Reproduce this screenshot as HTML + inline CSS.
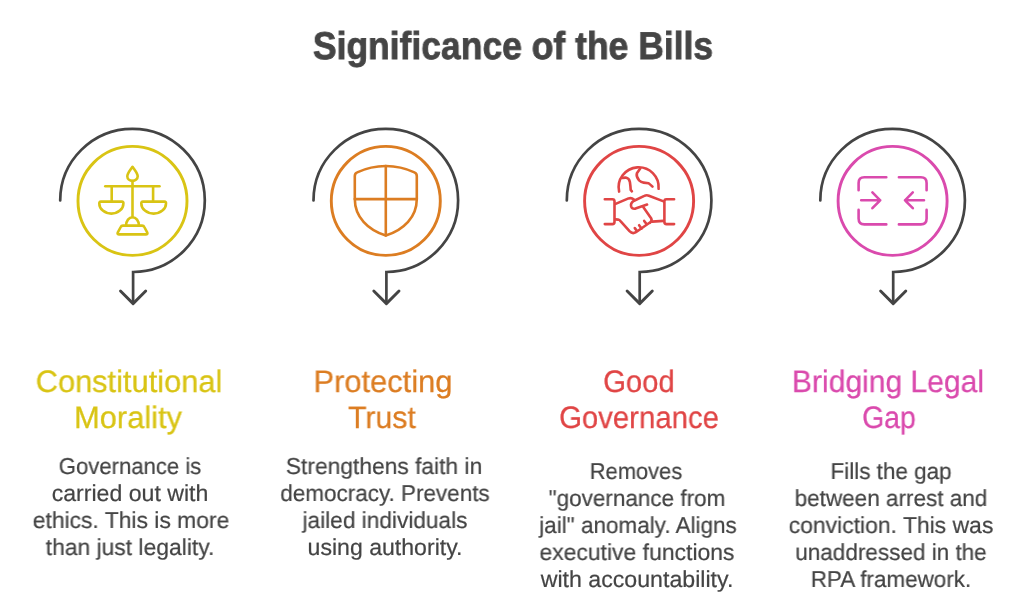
<!DOCTYPE html>
<html><head><meta charset="utf-8"><style>
html,body{margin:0;padding:0;background:#fff;}
body{width:1024px;height:609px;position:relative;overflow:hidden;font-family:"Liberation Sans",sans-serif;}
.ln{position:absolute;white-space:nowrap;transform-origin:50% 50%;will-change:transform;text-rendering:geometricPrecision;}
svg{position:absolute;left:0;top:0;}
</style></head><body>
<svg width="1024" height="609" viewBox="0 0 1024 609" fill="none" stroke-linecap="round" stroke-linejoin="round">

<!-- col1 -->
<g transform="translate(132.5 0)">
<path d="M-72.3 200.4 A72.3 71.6 0 1 1 0.6 272 L0.6 302.8" stroke="#444444" stroke-width="2.7" stroke-linecap="round" stroke-linejoin="miter"/><path d="M-12 291 L0.6 303.6 L13.2 291" stroke="#444444" stroke-width="2.9"/>
<circle cx="0" cy="200.9" r="54.5" stroke="#D9C414" stroke-width="2.9"/>
<g stroke="#D9C414" stroke-width="2.6">
<path d="M0 166.8 C-2.5 170.5 -5.2 173.5 -5.2 176.3 A5.2 4.6 0 0 0 5.2 176.3 C5.2 173.5 2.5 170.5 0 166.8 Z"/>
<path d="M0 181 L0 217"/>
<path d="M-27.2 186.3 L27 186.3"/>
<path d="M-20.8 186.3 L-20.8 201.4 M20.6 186.3 L20.6 201.4"/>
<path d="M-31.6 201.6 L-10.6 201.6 Q-8.9 201.6 -9.1 203.4 A12.05 10.2 0 0 1 -33.2 203.4 Q-33.3 201.6 -31.6 201.6 Z"/>
<path d="M10.4 201.6 L32 201.6 Q33.7 201.6 33.5 203.4 A12.35 10.2 0 0 1 8.8 203.4 Q8.7 201.6 10.4 201.6 Z"/>
<path d="M-6.4 225.4 A6.4 8.2 0 0 1 6.4 225.4"/>
<path d="M-9.6 225.6 L9.6 225.6 Q11.2 225.6 11.8 227 L14.8 232.6 Q15.4 234.4 13.4 234.4 L-13.4 234.4 Q-15.4 234.4 -14.8 232.6 L-11.8 227 Q-11.2 225.6 -9.6 225.6 Z"/>
</g>
</g>
<!-- col2 -->
<g transform="translate(385.8 0)">
<path d="M-72.3 200.4 A72.3 71.6 0 1 1 0.6 272 L0.6 302.8" stroke="#444444" stroke-width="2.7" stroke-linecap="round" stroke-linejoin="miter"/><path d="M-12 291 L0.6 303.6 L13.2 291" stroke="#444444" stroke-width="2.9"/>
<circle cx="0" cy="200.9" r="54.5" stroke="#DC7D22" stroke-width="2.9"/>
<g stroke="#DC7D22" stroke-width="2.6">
<path d="M-31 176 Q-31 173.3 -28.6 172.4 Q-15 166 0 166 Q15 166 28.6 172.4 Q31 173.3 31 176 L31 199 C31 217 18 230 0 235.6 C-18 230 -31 217 -31 199 Z"/>
<path d="M0 166 L0 235.4 M-31 199.1 L31 199.1"/>
</g>
</g>
<!-- col3 -->
<g transform="translate(639.1 0)">
<path d="M-72.3 200.4 A72.3 71.6 0 1 1 0.6 272 L0.6 302.8" stroke="#444444" stroke-width="2.7" stroke-linecap="round" stroke-linejoin="miter"/><path d="M-12 291 L0.6 303.6 L13.2 291" stroke="#444444" stroke-width="2.9"/>
<circle cx="0" cy="200.9" r="54.5" stroke="#E04545" stroke-width="2.9"/>
<g stroke="#E04545" stroke-width="2.6">
<path d="M-19.98 191.6 A20 20 0 1 1 19.49 188.8"/>
<path d="M-16.7 177.9 L-13.4 177.6 Q-10 178.3 -9.2 182 Q-8.6 186 -8.4 189.9 L-7.2 191.3"/>
<path d="M1.1 168.4 L-2.2 173.2 Q-3.2 176.8 0 180.4 Q2 182.3 4.5 182.6 L9.5 183.2 Q11.5 184.6 13.4 186.6"/>
<path d="M-34.3 199.2 L-26.7 199.2 Q-24.6 199.2 -24.6 201.3 L-24.6 222 Q-24.6 224.1 -26.7 224.1 L-34.3 224.1"/>
<path d="M35 199.2 L27.4 199.2 Q25.3 199.2 25.3 201.3 L25.3 222 Q25.3 224.1 27.4 224.1 L35 224.1"/>
<path d="M-23.5 203.9 L-10.6 198.4 Q-7.6 197.4 -5.2 199.4"/>
<path d="M24.5 201.4 L9.8 195.7 Q7.4 194.8 5.2 195.9 L-5 200.7 Q-8.8 203 -8 206.3 Q-7 209.2 -3.6 208.6 L8 204.6"/>
<path d="M4.3 207.2 L12 218.2 Q13.4 220.8 10.9 222.8"/>
<path d="M13 221.6 L24.5 220.9"/>
<path d="M-23.5 219.4 L-21 219.6 Q-19.6 219.9 -18.6 221.1 L-9.6 231.2 Q-6.6 234.4 -3.2 232.2 L10.4 222.8"/>
<path d="M-4.3 228.1 L-2.4 230.6 M0 225.2 L2.4 228.6 M5.1 220.9 L7.2 223.8"/>
</g>
</g>
<!-- col4 -->
<g transform="translate(892.6 0)">
<path d="M-72.3 200.4 A72.3 71.6 0 1 1 0.6 272 L0.6 302.8" stroke="#444444" stroke-width="2.7" stroke-linecap="round" stroke-linejoin="miter"/><path d="M-12 291 L0.6 303.6 L13.2 291" stroke="#444444" stroke-width="2.9"/>
<circle cx="0" cy="200.9" r="54.5" stroke="#DA4AAD" stroke-width="2.9"/>
<g stroke="#DA4AAD" stroke-width="2.6">
<path d="M-6.3 177.2 L-28.3 177.2 Q-34 177.2 -34 182.9 L-34 190.2"/>
<path d="M-34 209.9 L-34 218.6 Q-34 224.4 -28.3 224.4 L-6.3 224.4"/>
<path d="M6.3 177.2 L28.3 177.2 Q34 177.2 34 182.9 L34 190.2"/>
<path d="M34 209.9 L34 218.6 Q34 224.4 28.3 224.4 L6.3 224.4"/>
<path d="M-31.4 200.3 L-12.4 200.3 M-20.2 192.4 L-12.4 200.3 L-20.2 208.2"/>
<path d="M31.4 200.3 L12.4 200.3 M20.2 192.4 L12.4 200.3 L20.2 208.2"/>
</g>
</g>
</svg>

<div class="ln" style="top:23.57px;left:512.62px;font-size:38.8px;line-height:46.56px;font-weight:700;color:#454545;-webkit-text-stroke:0.8px #454545;transform:translateX(-50%) scaleX(0.9147)">Significance of the Bills</div>
<div class="ln" style="top:362.65px;left:129.31px;font-size:31px;line-height:37.20px;font-weight:400;color:#D9C414;-webkit-text-stroke:0.25px #D9C414;transform:translateX(-50%) scaleX(0.9935)">Constitutional</div>
<div class="ln" style="top:398.65px;left:128.10px;font-size:31px;line-height:37.20px;font-weight:400;color:#D9C414;-webkit-text-stroke:0.25px #D9C414;transform:translateX(-50%) scaleX(0.9942)">Morality</div>
<div class="ln" style="top:362.65px;left:382.67px;font-size:31px;line-height:37.20px;font-weight:400;color:#DC7D22;-webkit-text-stroke:0.25px #DC7D22;transform:translateX(-50%) scaleX(0.9960)">Protecting</div>
<div class="ln" style="top:398.65px;left:381.57px;font-size:31px;line-height:37.20px;font-weight:400;color:#DC7D22;-webkit-text-stroke:0.25px #DC7D22;transform:translateX(-50%) scaleX(0.9761)">Trust</div>
<div class="ln" style="top:362.65px;left:639.34px;font-size:31px;line-height:37.20px;font-weight:400;color:#E04545;-webkit-text-stroke:0.25px #E04545;transform:translateX(-50%) scaleX(0.9448)">Good</div>
<div class="ln" style="top:398.65px;left:639.43px;font-size:31px;line-height:37.20px;font-weight:400;color:#E04545;-webkit-text-stroke:0.25px #E04545;transform:translateX(-50%) scaleX(0.9452)">Governance</div>
<div class="ln" style="top:362.65px;left:888.28px;font-size:31px;line-height:37.20px;font-weight:400;color:#DA4AAD;-webkit-text-stroke:0.25px #DA4AAD;transform:translateX(-50%) scaleX(0.9699)">Bridging Legal</div>
<div class="ln" style="top:398.65px;left:889.03px;font-size:31px;line-height:37.20px;font-weight:400;color:#DA4AAD;-webkit-text-stroke:0.25px #DA4AAD;transform:translateX(-50%) scaleX(0.9160)">Gap</div>
<div class="ln" style="top:453.23px;left:129.72px;font-size:23px;line-height:27.60px;font-weight:400;color:#444444;-webkit-text-stroke:0.2px #444444;transform:translateX(-50%) scaleX(0.9613)">Governance is</div>
<div class="ln" style="top:480.23px;left:129.54px;font-size:23px;line-height:27.60px;font-weight:400;color:#444444;-webkit-text-stroke:0.2px #444444;transform:translateX(-50%) scaleX(1.0049)">carried out with</div>
<div class="ln" style="top:507.23px;left:130.56px;font-size:23px;line-height:27.60px;font-weight:400;color:#444444;-webkit-text-stroke:0.2px #444444;transform:translateX(-50%) scaleX(0.9939)">ethics. This is more</div>
<div class="ln" style="top:534.23px;left:130.02px;font-size:23px;line-height:27.60px;font-weight:400;color:#444444;-webkit-text-stroke:0.2px #444444;transform:translateX(-50%) scaleX(0.9943)">than just legality.</div>
<div class="ln" style="top:453.23px;left:384.28px;font-size:23px;line-height:27.60px;font-weight:400;color:#444444;-webkit-text-stroke:0.2px #444444;transform:translateX(-50%) scaleX(0.9911)">Strengthens faith in</div>
<div class="ln" style="top:480.23px;left:384.59px;font-size:23px;line-height:27.60px;font-weight:400;color:#444444;-webkit-text-stroke:0.2px #444444;transform:translateX(-50%) scaleX(0.9768)">democracy. Prevents</div>
<div class="ln" style="top:507.23px;left:384.51px;font-size:23px;line-height:27.60px;font-weight:400;color:#444444;-webkit-text-stroke:0.2px #444444;transform:translateX(-50%) scaleX(0.9846)">jailed individuals</div>
<div class="ln" style="top:534.23px;left:384.71px;font-size:23px;line-height:27.60px;font-weight:400;color:#444444;-webkit-text-stroke:0.2px #444444;transform:translateX(-50%) scaleX(1.0038)">using authority.</div>
<div class="ln" style="top:457.83px;left:636.44px;font-size:23px;line-height:27.60px;font-weight:400;color:#444444;-webkit-text-stroke:0.2px #444444;transform:translateX(-50%) scaleX(0.9516)">Removes</div>
<div class="ln" style="top:484.83px;left:637.39px;font-size:23px;line-height:27.60px;font-weight:400;color:#444444;-webkit-text-stroke:0.2px #444444;transform:translateX(-50%) scaleX(0.9780)">"governance from</div>
<div class="ln" style="top:511.83px;left:637.63px;font-size:23px;line-height:27.60px;font-weight:400;color:#444444;-webkit-text-stroke:0.2px #444444;transform:translateX(-50%) scaleX(0.9777)">jail" anomaly. Aligns</div>
<div class="ln" style="top:538.83px;left:636.73px;font-size:23px;line-height:27.60px;font-weight:400;color:#444444;-webkit-text-stroke:0.2px #444444;transform:translateX(-50%) scaleX(0.9967)">executive functions</div>
<div class="ln" style="top:565.83px;left:637.13px;font-size:23px;line-height:27.60px;font-weight:400;color:#444444;-webkit-text-stroke:0.2px #444444;transform:translateX(-50%) scaleX(1.0069)">with accountability.</div>
<div class="ln" style="top:457.83px;left:890.55px;font-size:23px;line-height:27.60px;font-weight:400;color:#444444;-webkit-text-stroke:0.2px #444444;transform:translateX(-50%) scaleX(0.9754)">Fills the gap</div>
<div class="ln" style="top:484.83px;left:891.42px;font-size:23px;line-height:27.60px;font-weight:400;color:#444444;-webkit-text-stroke:0.2px #444444;transform:translateX(-50%) scaleX(0.9787)">between arrest and</div>
<div class="ln" style="top:511.83px;left:891.47px;font-size:23px;line-height:27.60px;font-weight:400;color:#444444;-webkit-text-stroke:0.2px #444444;transform:translateX(-50%) scaleX(0.9962)">conviction. This was</div>
<div class="ln" style="top:538.83px;left:891.10px;font-size:23px;line-height:27.60px;font-weight:400;color:#444444;-webkit-text-stroke:0.2px #444444;transform:translateX(-50%) scaleX(0.9785)">unaddressed in the</div>
<div class="ln" style="top:565.83px;left:890.79px;font-size:23px;line-height:27.60px;font-weight:400;color:#444444;-webkit-text-stroke:0.2px #444444;transform:translateX(-50%) scaleX(0.9753)">RPA framework.</div>
</body></html>
